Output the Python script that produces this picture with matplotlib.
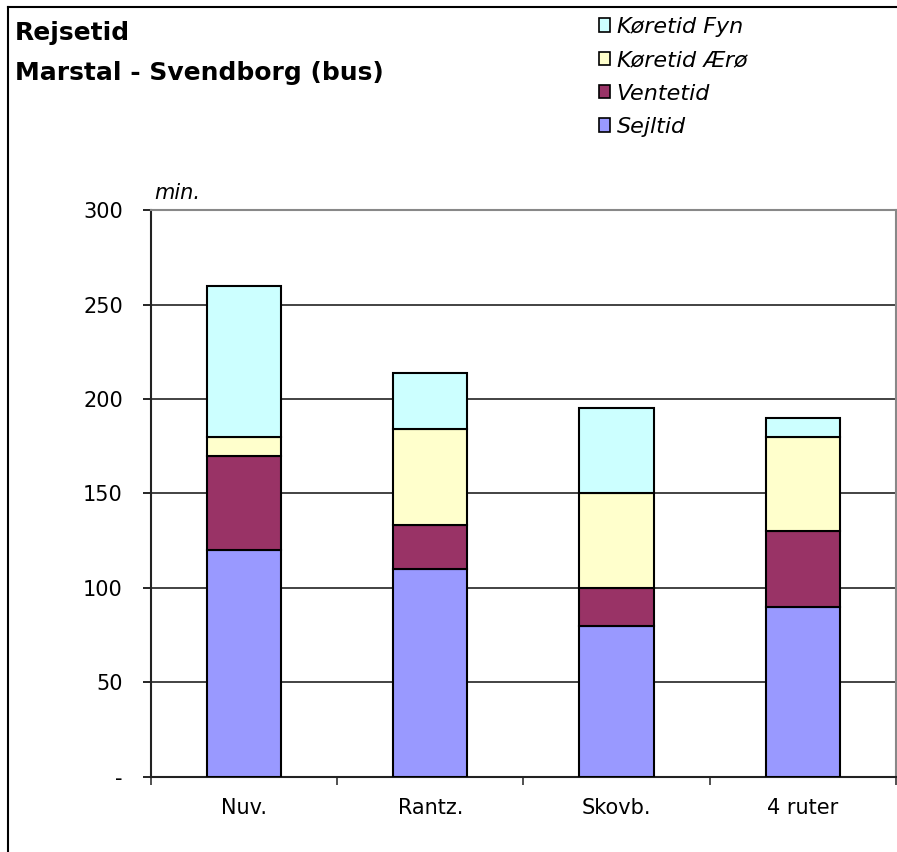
import numpy as np
import matplotlib
matplotlib.use('Agg')
import matplotlib.pyplot as plt
from matplotlib.patches import Patch
from matplotlib.lines import Line2D

categories = ['Nuv.', 'Rantz.', 'Skovb.', '4 ruter']
sejltid = [120, 110, 80, 90]
ventetid = [50, 23, 20, 40]
koretid_aero = [10, 51, 50, 50]
koretid_fyn = [80, 30, 45, 10]

series_names = ['Sejltid', 'Ventetid', 'Køretid Ærø', 'Køretid Fyn']
series_colors = ['#9999FF', '#993366', '#FFFFCC', '#CCFFFF']
y_ticks = [0, 50, 100, 150, 200, 250, 300]
y_labels = ['-', '50', '100', '150', '200', '250', '300']

plt.rcParams['font.family'] = ['DejaVu Sans']

fig = plt.figure(figsize=(8.97, 8.52), dpi=100)
ax = fig.add_axes([0.168, 0.0884, 0.831, 0.665])

x = np.arange(len(categories))
bottom = np.zeros(len(categories))
for vals, name, col in zip([sejltid, ventetid, koretid_aero, koretid_fyn], series_names, series_colors):
    ax.bar(x, vals, width=0.4, bottom=bottom, color=col, edgecolor='black', linewidth=1.5, label=name, zorder=3)
    bottom += np.array(vals)

ax.set_xlim(-0.5, len(categories) - 0.5)
ax.set_ylim(0, 300)
ax.set_yticks(y_ticks)
ax.set_yticklabels(y_labels, fontsize=15)
ax.set_xticks(x)
ax.set_xticklabels(categories, fontsize=15)
ax.set_xticks(np.arange(-0.5, len(categories)), minor=True)
ax.tick_params(axis='x', which='major', length=0, pad=15)
ax.tick_params(axis='x', which='minor', length=6, width=1.2, color='#333333', direction='out')
ax.tick_params(axis='y', length=6, width=1.2, direction='out', pad=14)

for v in y_ticks[1:-1]:
    ax.axhline(v, color='#222222', linewidth=1.2, zorder=1)

for side in ['left', 'bottom']:
    ax.spines[side].set_color('#222222')
    ax.spines[side].set_linewidth(1.5)
for side in ['top', 'right']:
    ax.spines[side].set_color('#888888')
    ax.spines[side].set_linewidth(1.5)

ax.text(0.005, 1.012, 'min.', transform=ax.transAxes, fontsize=15, style='italic', ha='left', va='bottom')

fig.text(15 / 897, 1 - 33 / 852, 'Rejsetid', fontsize=18, fontweight='bold', va='center', ha='left')
fig.text(15 / 897, 1 - 73 / 852, 'Marstal - Svendborg (bus)', fontsize=18, fontweight='bold', va='center', ha='left')

# figure frame (left and top edges visible)
fig.add_artist(Line2D([8 / 897, 8 / 897], [0, 1 - 7 / 852], color='black', linewidth=1.5))
fig.add_artist(Line2D([8 / 897, 1], [1 - 7 / 852, 1 - 7 / 852], color='black', linewidth=1.5))

handles = [Patch(facecolor=c, edgecolor='black', linewidth=1.2) for c in series_colors][::-1]
fig.legend(handles, series_names[::-1], loc='upper left', bbox_to_anchor=(590 / 897, 1 - 8 / 852),
           frameon=False, prop={'size': 16, 'style': 'italic'}, handlelength=0.5, handleheight=0.55,
           handletextpad=0.3, labelspacing=0.6, borderaxespad=0)

fig.savefig('out.png', dpi=100)
